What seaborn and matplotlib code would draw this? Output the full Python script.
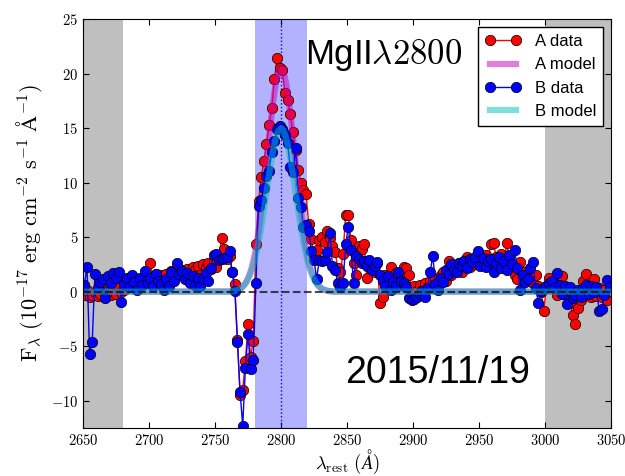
import numpy as np
import matplotlib
matplotlib.use('Agg')
import matplotlib.pyplot as plt
import seaborn as sns
from matplotlib.ticker import FuncFormatter, MultipleLocator

# spectral grid, 2 A steps starting at 2651 A
wave = np.arange(2651, 3050, 2)

# A image flux (1e-17 erg/cm2/s/A), rows of 10 pixels
a_flux = [
    -0.3, 0.2, -0.5, -0.3, 0.0, -0.4, -0.2, 0.3, -0.5, 0.1,      # 2651
    -0.3, 0.4, -0.2, 0.3, 0.0, 0.2, 0.8, 1.0, 0.5, 1.0,          # 2671
    0.3, 1.2, 0.6, 1.4, 0.9, 2.6, 1.2, 1.6, 0.8, 1.5,            # 2691
    0.9, 1.6, 0.6, 1.9, 1.3, 2.2, 1.5, 2.0, 1.6, 2.1,            # 2711
    1.4, 2.3, 2.0, 2.4, 1.5, 2.5, 2.2, 2.6, 2.1, 2.7,            # 2731
    2.3, 3.0, 4.9, 3.9, 3.0, 3.3, 1.8, 0.7, -4.4, -9.5,          # 2751
    -9.0, -6.4, -3.0, -6.0, -4.5, 4.4, 8.3, 10.5, 12.0, 13.5,    # 2771
    15.3, 16.8, 19.5, 21.4, 20.5, 20.3, 18.2, 17.6, 16.3, 14.6,  # 2791
    13.0, 11.2, 10.0, 9.3, 9.0, 6.2, 4.8, 3.1, 3.8, 4.7,         # 2811
    5.0, 4.6, 5.6, 4.9, 4.2, 3.6, 2.2, 1.8, 3.5, 7.0,            # 2831
    7.0, 4.7, 2.6, 1.5, 4.2, 3.9, 4.4, 1.3, 2.8, 2.4,            # 2851
    1.8, 2.6, -1.0, -0.5, 1.5, 1.2, 2.3, 1.0, 1.7, 0.5,          # 2871
    1.5, 2.3, 2.2, 1.5, 0.3, 0.5, 0.1, 0.6, 0.2, 0.8,            # 2891
    0.4, 1.0, 0.3, 1.2, 0.6, 1.5, 1.8, 1.0, 2.8, 1.5,            # 2911
    2.0, 2.4, 2.6, 1.8, 2.8, 3.2, 2.3, 3.0, 2.5, 3.4,            # 2931
    3.0, 2.6, 3.4, 3.0, 4.4, 4.5, 3.2, 2.8, 3.5, 2.5,            # 2951
    4.5, 3.0, 2.5, 1.5, 1.2, 2.7, 1.8, 1.0, 1.5, 1.7,            # 2971
    0.8, 1.5, 0.5, 0.0, -1.75, 0.3, 1.3, 0.5, 1.0, -0.3,         # 2991
    0.5, 1.4, -0.2, 0.4, -1.0, -2.1, -3.0, -1.5, -0.8, 1.0,      # 3011
    1.6, 0.8, -0.5, 1.2, -0.4, 0.3, -0.5, 0.2, -0.8, 0.5,        # 3031
]

# B image flux
b_flux = [
    0.6, 2.3, -5.7, -4.6, 1.6, 0.3, 0.9, 1.2, -0.6, 1.4,         # 2651
    0.8, 1.7, 1.3, 1.8, -0.9, 0.7, 1.3, 0.4, 1.5, 0.9,           # 2671
    0.2, 1.3, 0.6, 1.9, 0.8, 1.3, 0.5, 1.6, 1.0, 0.7,            # 2691
    0.2, 1.2, 0.5, 1.8, 1.0, 2.6, 1.6, 1.9, 1.2, 1.7,            # 2711
    0.8, 1.4, 0.6, 1.3, 0.5, 1.2, 1.7, 1.0, 2.2, 3.4,            # 2731
    3.5, 2.9, 3.0, 3.1, 3.2, 3.7, 1.8, 0.1, -4.6, -9.2,          # 2751
    -12.3, -7.0, -3.9, -7.1, -6.3, 0.8, 7.9, 8.4, 9.5, 10.6,     # 2771
    11.1, 12.8, 13.8, 14.9, 15.2, 14.9, 14.4, 13.6, 11.4, 11.0,  # 2791
    13.2, 8.6, 7.8, 5.9, 6.1, 5.6, 3.75, 2.9, 1.2, 2.9,          # 2811
    2.8, 2.9, 3.6, 5.4, 2.4, 2.0, 0.8, 0.4, 0.8, 4.4,            # 2831
    5.9, 3.8, 0.8, 3.3, 3.0, 2.6, 2.8, 2.4, 2.9, 2.0,            # 2851
    2.4, 2.7, 1.5, 1.0, 0.5, 1.4, 0.2, 0.9, 0.5, 1.8,            # 2871
    1.0, 0.8, 0.4, -0.6, -0.8, -0.7, -0.5, -0.2, 0.1, -0.5,      # 2891
    0.3, 1.8, 3.3, 0.7, 0.2, 1.3, 0.9, 2.0, 1.6, 2.5,            # 2911
    2.0, 1.8, 2.6, 2.4, 2.8, 2.2, 3.0, 2.7, 3.2, 3.75,           # 2931
    2.4, 3.1, 2.3, 2.8, 3.0, 1.8, 2.6, 3.2, 2.2, 2.8,            # 2951
    2.0, 3.4, 2.5, 3.8, 2.2, 0.2, 1.5, 0.9, 1.2, 2.2,            # 2971
    2.7, 0.3, -1.0, 0.1, 0.3, 0.5, 0.8, 1.0, 0.3, 1.7,           # 2991
    0.6, -0.2, 0.5, -1.1, 0.4, -0.6, -0.3, 0.2, -0.5, 0.3,       # 3011
    0.6, -0.2, 0.5, 0.0, 0.4, -1.75, -1.6, -0.3, 1.07, 0.4,      # 3031
]

# line models, 2760-2840 A in 2 A steps, zero outside
model_wave = np.arange(2760, 2842, 2)
a_model_core = [0.01, 0.03, 0.06, 0.11, 0.20, 0.35, 0.59, 0.95, 1.50, 2.28,
                3.34, 4.72, 6.42, 8.43, 10.67, 13.02, 15.33, 17.41, 19.06, 20.13,
                20.5,
                20.13, 19.06, 17.41, 15.33, 13.02, 10.67, 8.43, 6.42, 4.72, 3.34,
                2.28, 1.50, 0.95, 0.59, 0.35, 0.20, 0.11, 0.06, 0.03, 0.01]
b_model_core = [0.02, 0.04, 0.07, 0.13, 0.22, 0.36, 0.59, 0.92, 1.39, 2.03,
                2.87, 3.93, 5.21, 6.67, 8.27, 9.92, 11.51, 12.93, 14.04, 14.75,
                15.0,
                14.75, 14.04, 12.93, 11.51, 9.92, 8.27, 6.67, 5.21, 3.93, 2.87,
                2.03, 1.39, 0.92, 0.59, 0.36, 0.22, 0.13, 0.07, 0.04, 0.02]

mwave = np.r_[2650, model_wave, 3050]
a_model = np.r_[0.0, a_model_core, 0.0]
b_model = np.r_[0.0, b_model_core, 0.0]

plt.rcParams['mathtext.fontset'] = 'cm'
plt.rcParams['font.family'] = ['Liberation Sans', 'DejaVu Sans']
plt.rcParams['xtick.direction'] = 'in'
plt.rcParams['ytick.direction'] = 'in'
plt.rcParams['xtick.top'] = True
plt.rcParams['ytick.right'] = True
plt.rcParams['xtick.major.size'] = 4
plt.rcParams['ytick.major.size'] = 4
plt.rcParams['legend.fancybox'] = False
plt.rcParams['legend.edgecolor'] = 'k'
plt.rcParams['legend.framealpha'] = 1
plt.rcParams['legend.numpoints'] = 2

fig = plt.figure(figsize=(6.25, 4.76), dpi=100)
ax = fig.add_axes([0.1328, 0.1008, 0.8448, 0.8592])

ax.axvspan(2650, 2680, color='k', alpha=0.25, lw=0)
ax.axvspan(3000, 3050, color='k', alpha=0.25, lw=0)
ax.axvspan(2780, 2820, color='b', alpha=0.3, lw=0)
ax.axvline(2800, color='b', ls=':', lw=1)

sns.lineplot(x=wave, y=a_flux, color='r', marker='o', markersize=7.5,
             markeredgecolor='k', markeredgewidth=0.5, lw=1,
             estimator=None, label='A data', ax=ax)
sns.lineplot(x=mwave, y=a_model, color=(0.75, 0, 0.75), alpha=0.5, lw=4.5,
             estimator=None, label='A model', ax=ax)
sns.lineplot(x=wave, y=b_flux, color='b', marker='o', markersize=7.5,
             markeredgecolor='k', markeredgewidth=0.5, lw=1,
             estimator=None, label='B data', ax=ax)
sns.lineplot(x=mwave, y=b_model, color=(0, 0.75, 0.75), alpha=0.5, lw=4.5,
             estimator=None, label='B model', ax=ax)

ax.axhline(0, color='k', ls='--', lw=1.5, alpha=0.7, zorder=5)

ax.text(2818, 20.9, r'MgII$\lambda2800$', fontsize=25)
ax.text(2848.5, -8.4, '2015/11/19', fontsize=27)

ax.set_xlim(2650, 3050)
ax.set_ylim(-12.5, 25)
ax.xaxis.set_major_locator(MultipleLocator(50))
ax.yaxis.set_major_locator(MultipleLocator(5))
fmt = FuncFormatter(lambda v, p: r'$%d$' % v)
ax.xaxis.set_major_formatter(fmt)
ax.yaxis.set_major_formatter(fmt)
ax.tick_params(labelsize=10.5)

ax.set_xlabel(r'$\lambda_{\rm rest}\ (\AA)$', fontsize=13.5, labelpad=0)
ax.set_ylabel(r'$\rm F_\lambda\ (10^{-17}\ erg\ cm^{-2}\ s^{-1}\ \AA^{-1})$', fontsize=16)

ax.legend(loc='upper right', fontsize=12, handlelength=2.2)

fig.savefig('out.png', dpi=100)
